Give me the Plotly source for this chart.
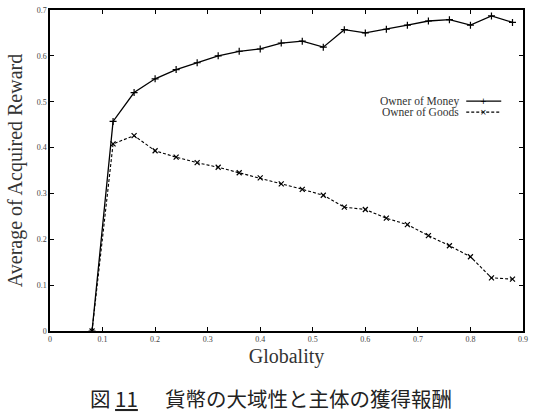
import plotly.graph_objects as go

globality = [0.08, 0.12, 0.16, 0.20, 0.24, 0.28, 0.32, 0.36, 0.40, 0.44, 0.48,
             0.52, 0.56, 0.60, 0.64, 0.68, 0.72, 0.76, 0.80, 0.84, 0.88]
owner_money = [0.0, 0.457, 0.520, 0.550, 0.570, 0.585, 0.600, 0.610, 0.615, 0.628, 0.632,
               0.619, 0.657, 0.650, 0.658, 0.667, 0.676, 0.679, 0.667, 0.687, 0.673]
owner_goods = [0.0, 0.408, 0.426, 0.393, 0.379, 0.367, 0.357, 0.345, 0.334, 0.321, 0.309,
               0.296, 0.270, 0.265, 0.246, 0.232, 0.208, 0.186, 0.162, 0.116, 0.113]
x_ticks = [0, 0.1, 0.2, 0.3, 0.4, 0.5, 0.6, 0.7, 0.8, 0.9]
y_ticks = [0, 0.1, 0.2, 0.3, 0.4, 0.5, 0.6, 0.7]

SERIF = "Liberation Serif"

fig = go.Figure()
fig.add_trace(go.Scatter(x=globality, y=owner_money, mode="lines+markers", name="Owner of Money",
                         line=dict(color="black", width=1.3),
                         marker=dict(symbol="cross-thin", size=5, color="black",
                                     line=dict(color="black", width=1.2))))
fig.add_trace(go.Scatter(x=globality, y=owner_goods, mode="lines+markers", name="Owner of Goods",
                         line=dict(color="black", width=1.1, dash="3px,2px"),
                         marker=dict(symbol="x-thin", size=5, color="black",
                                     line=dict(color="black", width=1.2))))

axis_common = dict(showline=True, linecolor="black", linewidth=1.5, mirror="ticks",
                   ticks="inside", ticklen=4, tickwidth=1, tickcolor="black",
                   showgrid=False, zeroline=False,
                   tickfont=dict(family=SERIF, size=8, color="#444444"))

fig.update_xaxes(range=[0, 0.9], tickvals=x_ticks, ticktext=[f"{v:g}" for v in x_ticks],
                 title=dict(text="Globality", font=dict(family=SERIF, size=20, color="#333333"), standoff=6),
                 **axis_common)
fig.update_yaxes(range=[0, 0.7], tickvals=y_ticks, ticktext=[f"{v:g}" for v in y_ticks],
                 title=dict(text="Average of Acquired Reward", font=dict(family=SERIF, size=20, color="#333333"), standoff=9),
                 **axis_common)

# legend drawn gnuplot-style: text then sample line
leg_y = [0.716, 0.682]
for yy, name, dash in [(leg_y[0], "Owner of Money", "solid"), (leg_y[1], "Owner of Goods", "3px,2px")]:
    fig.add_annotation(xref="paper", yref="paper", x=0.868, y=yy, text=name, showarrow=False,
                       xanchor="right", yanchor="middle",
                       font=dict(family=SERIF, size=11.5, color="#333333"))
    fig.add_shape(type="line", xref="paper", yref="paper", x0=0.88, x1=0.954, y0=yy, y1=yy,
                  line=dict(color="black", width=1.1, dash=dash))
fig.add_annotation(xref="paper", yref="paper", x=0.917, y=leg_y[0], text="+", showarrow=False,
                   xanchor="center", yanchor="middle",
                   font=dict(family="DejaVu Sans", size=8, color="black"))
fig.add_annotation(xref="paper", yref="paper", x=0.917, y=leg_y[1], text="×", showarrow=False,
                   xanchor="center", yanchor="middle",
                   font=dict(family="DejaVu Sans", size=8, color="black"))

fig.add_annotation(xref="paper", yref="paper", x=0.08, y=-0.208, xanchor="left", yanchor="middle",
                   text="図 <u>11</u>", showarrow=False,
                   font=dict(family="Noto Sans CJK JP", size=20.5, color="#222222"))
fig.add_annotation(xref="paper", yref="paper", x=0.238, y=-0.208, xanchor="left", yanchor="middle",
                   text="貨幣の大域性と主体の獲得報酬", showarrow=False,
                   font=dict(family="Noto Sans CJK JP", size=20.5, color="#222222"))

fig.update_layout(width=534, height=413, margin=dict(l=50, r=9, t=6, b=82),
                  paper_bgcolor="white", plot_bgcolor="white", showlegend=False)

fig.write_html("out.html")
